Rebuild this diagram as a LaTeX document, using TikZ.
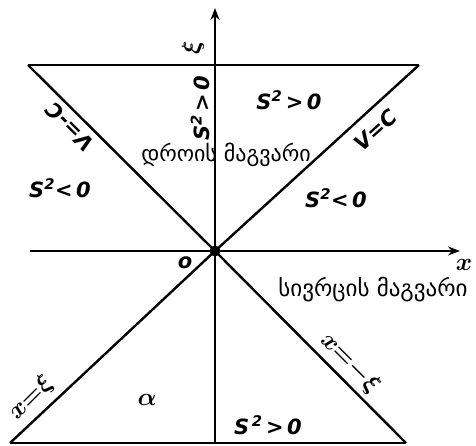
\documentclass[tikz,border=0pt]{standalone}
\usepackage{fontspec}
\setmainfont{DejaVu Sans}
\newfontfamily\geofont[Script=Georgian]{DejaVu Sans}
\usetikzlibrary{arrows.meta}

\begin{document}
\begin{tikzpicture}[x=1pt,y=1pt,
  lbl/.style={font=\fontsize{21}{23}\selectfont\bfseries\itshape, inner sep=1pt},
  geo/.style={font=\geofont\fontsize{22}{25}\selectfont, inner sep=1pt},
  eq/.style={font=\fontsize{23}{25}\selectfont\boldmath, inner sep=1pt}]
\useasboundingbox (-215,-194) rectangle (261,251);
% corners of the cone and axes
\coordinate (o) at (0,0);
\coordinate (tl) at (-187,186);
\coordinate (tr) at (204,186);
\coordinate (bl) at (-205,-192);
\coordinate (br) at (191,-192);
\coordinate (xl) at (-185,0);
\coordinate (xr) at (245,0);
\coordinate (yb) at (0,-192);
\coordinate (yt) at (0,243);
\begin{scope}[line width=2.4pt]
\draw (tl) -- (tr);
\draw (bl) -- (br);
\draw (tl) -- (o) -- (br);
\draw (tr) -- (o) -- (bl);
\draw[-{Stealth[length=12pt,width=9pt]}] (xl) -- (xr);
\draw[-{Stealth[length=12pt,width=9pt]}] (yb) -- (yt);
\end{scope}
\fill[black] (o) circle (5.5);
% labels
\node[eq, font=\fontsize{28}{30}\selectfont\boldmath, rotate=90] (xi) at (-22,203) {$\xi$};
\node[eq, font=\fontsize{30}{32}\selectfont\boldmath] (xlab) at (249,-14) {$x$};
\node[lbl] (olab) at (-30,-12) {o};
\node[lbl, rotate=90] (s2a) at (-15,143) {S\textsuperscript{2}\,>\,0};
\node[lbl] (s2b) at (74,151) {S\textsuperscript{2}\,>\,0};
\node[lbl] (s2c) at (-155,63) {S\textsuperscript{2}<\,0};
\node[lbl] (s2d) at (121,53) {S\textsuperscript{2}<\,0};
\node[lbl] (s2e) at (53,-174) {S\textsuperscript{\,2}\,>\,0};
\node[lbl, rotate=42] (vc) at (161,121) {V=C};
\node[lbl, rotate=135] (vmc) at (-145,124) {V=-C};
\node[geo] (time) at (11,96) {დროის მაგვარი};
\node[geo, font=\geofont\fontsize{23}{26}\selectfont] (space) at (158,-39) {სივრცის მაგვარი};
\node[eq, rotate=-45] (xmxi) at (135,-112) {$x{=}{-}\xi$};
\node[eq, rotate=45] (xxi) at (-184,-147) {$x{=}\xi$};
\node[eq, font=\fontsize{30}{32}\selectfont\boldmath] (alab) at (-68,-149) {$\alpha$};
\end{tikzpicture}
\end{document}
